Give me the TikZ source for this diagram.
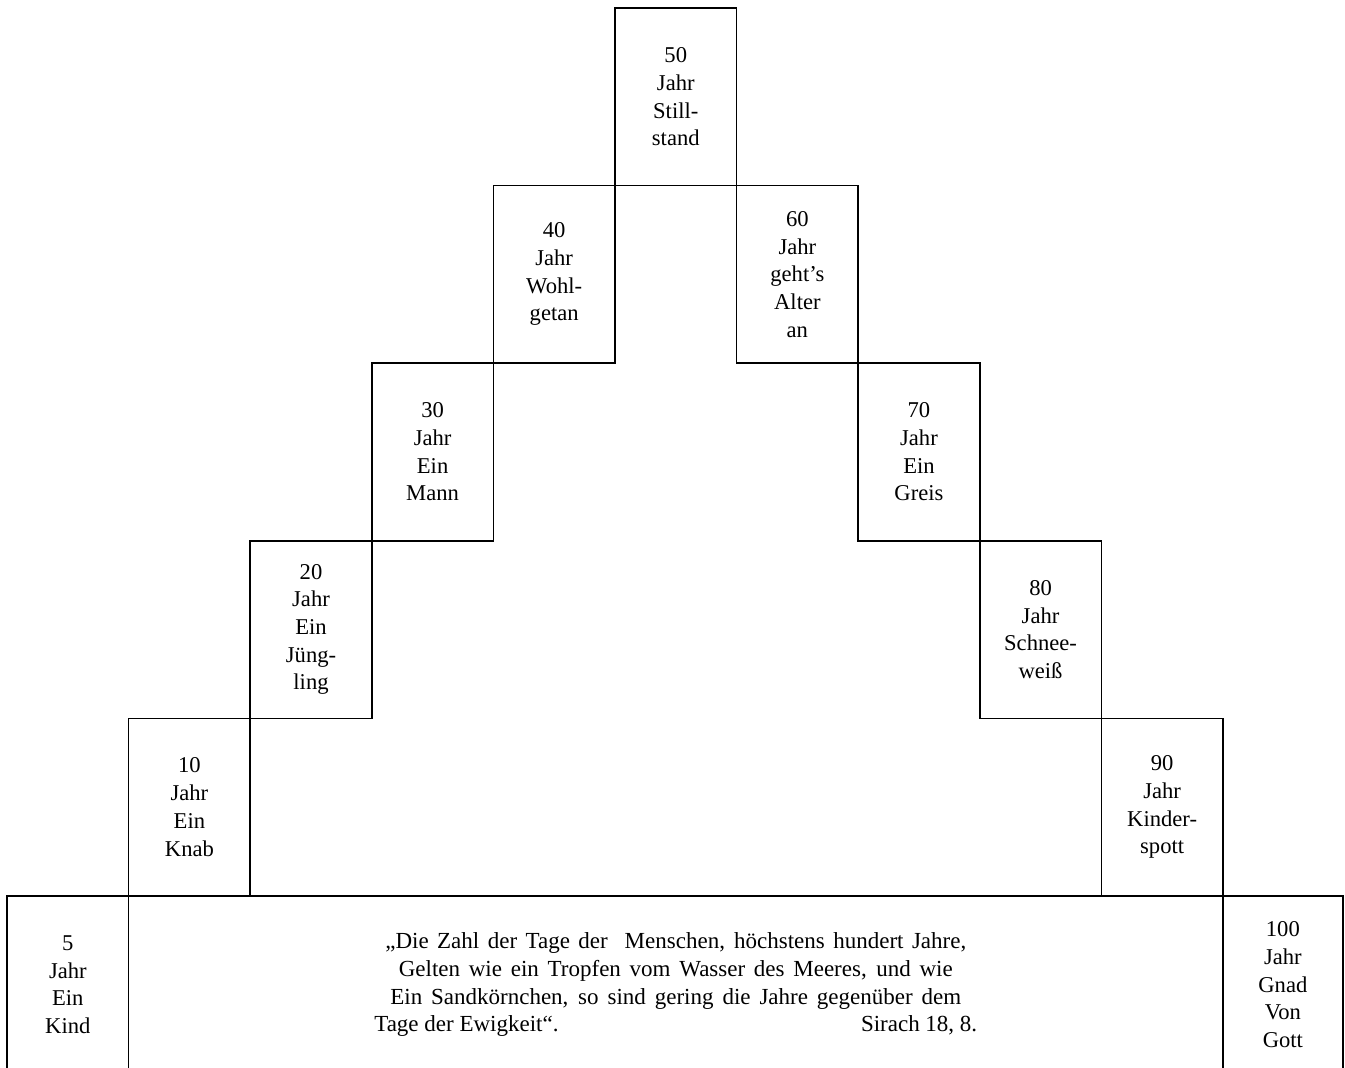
\documentclass[tikz,border=0pt]{standalone}
\usepackage{fontspec}
\setmainfont{Liberation Serif}
\tikzset{
  stufe/.style={draw, line width=0.8pt, inner sep=0pt, align=center,
    minimum width=60.8pt, minimum height=88.8pt,
    font=\fontsize{11.3}{13.85}\selectfont},
}
\newcommand{\spruchzeile}[2]{{\fontsize{11.5}{13.85}\selectfont\makebox[#1][s]{#2}}}
\begin{document}
\begin{tikzpicture}[x=60.8pt,y=88.8pt]
      \useasboundingbox (-0.058,0.032) rectangle (11.004,6.045);
      \clip (-0.058,0.032) rectangle (11.004,6.045);
      % unterste Reihe
      \node[stufe] (j5) at (0.5,0.5) {5\\Jahr\\Ein\\Kind};
      \node[stufe, minimum width=547.2pt] (spruch) at (5.5,0.5)
        {\spruchzeile{290.5pt}{„Die Zahl der Tage der\ \ Menschen, höchstens hundert Jahre,}\\
         \spruchzeile{277pt}{Gelten wie ein Tropfen vom Wasser des Meeres, und wie}\\
         \spruchzeile{285.5pt}{Ein Sandkörnchen, so sind gering die Jahre gegenüber dem}\\
         \spruchzeile{301.5pt}{Tage der Ewigkeit“.\hfill Sirach 18, 8.}};
      \node[stufe, minimum width=60pt] (j100) at (10.493,0.5) {100\\Jahr\\Gnad\\Von\\Gott};
      % aufwaerts
      \node[stufe] (j10) at (1.5,1.5) {10\\Jahr\\Ein\\Knab};
      \node[stufe] (j20) at (2.5,2.5) {20\\Jahr\\Ein\\Jüng-\\ling};
      \node[stufe] (j30) at (3.5,3.5) {30\\Jahr\\Ein\\Mann};
      \node[stufe] (j40) at (4.5,4.5) {40\\Jahr\\Wohl-\\getan};
      \node[stufe] (j50) at (5.5,5.5) {50\\Jahr\\Still-\\stand};
      % abwaerts
      \node[stufe] (j60) at (6.5,4.5) {60\\Jahr\\geht’s\\Alter\\an};
      \node[stufe] (j70) at (7.5,3.5) {70\\Jahr\\Ein\\Greis};
      \node[stufe] (j80) at (8.5,2.5) {80\\Jahr\\Schnee-\\weiß};
      \node[stufe] (j90) at (9.5,1.5) {90\\Jahr\\Kinder-\\spott};
    \end{tikzpicture}
\end{document}
